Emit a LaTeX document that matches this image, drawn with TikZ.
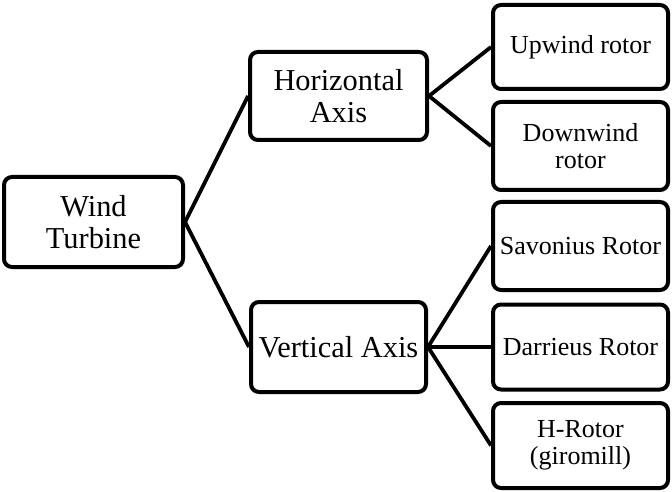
\documentclass[tikz,border=0pt]{standalone}
\usepackage{fontspec}
\setmainfont{Liberation Serif}
\usepackage{tikz}

\tikzset{
    bigbox/.style={draw, line width=2pt, rounded corners=4pt, align=center,
        inner sep=0pt, font=\fontsize{15.2}{16}\selectfont},
    smallbox/.style={draw, line width=2pt, rounded corners=4pt, align=center,
        inner sep=0pt, minimum width=87.5pt, font=\fontsize{13}{13.6}\selectfont},
    link/.style={line width=1.9pt}
}

\begin{document}
\begin{tikzpicture}[x=0.5pt, y=-0.5pt]
    \useasboundingbox (0,0) rectangle (672,491);

    % Root
    \node[bigbox, minimum width=89.5pt, minimum height=45pt] (turbine) at (93.5,222) {Wind\\Turbine};

    % Axes
    \node[bigbox, minimum width=88.5pt, minimum height=44pt] (horizontal) at (338.5,96) {Horizontal\\Axis};
    \node[bigbox, minimum width=87.5pt, minimum height=45pt] (vertical) at (338.5,347) {Vertical Axis};

    % Rotors
    \node[smallbox, minimum height=42pt] (upwind) at (580.5,47) {Upwind rotor};
    \node[smallbox, minimum height=44pt] (downwind) at (580.5,146) {Downwind\\rotor};
    \node[smallbox, minimum height=44pt] (savonius) at (580.5,246) {Savonius Rotor};
    \node[smallbox, minimum height=42.5pt] (darrieus) at (580.5,347) {Darrieus Rotor};
    \node[smallbox, minimum height=42.5pt] (hrotor) at (580.5,445.5) {H-Rotor\\(giromill)};

    % Links
    \draw[link] (turbine.east) -- (horizontal.west);
    \draw[link] (turbine.east) -- (vertical.west);
    \draw[link] (horizontal.east) -- (upwind.west);
    \draw[link] (horizontal.east) -- (downwind.west);
    \draw[link] (vertical.east) -- (savonius.west);
    \draw[link] (vertical.east) -- (darrieus.west);
    \draw[link] (vertical.east) -- (hrotor.west);
\end{tikzpicture}
\end{document}
